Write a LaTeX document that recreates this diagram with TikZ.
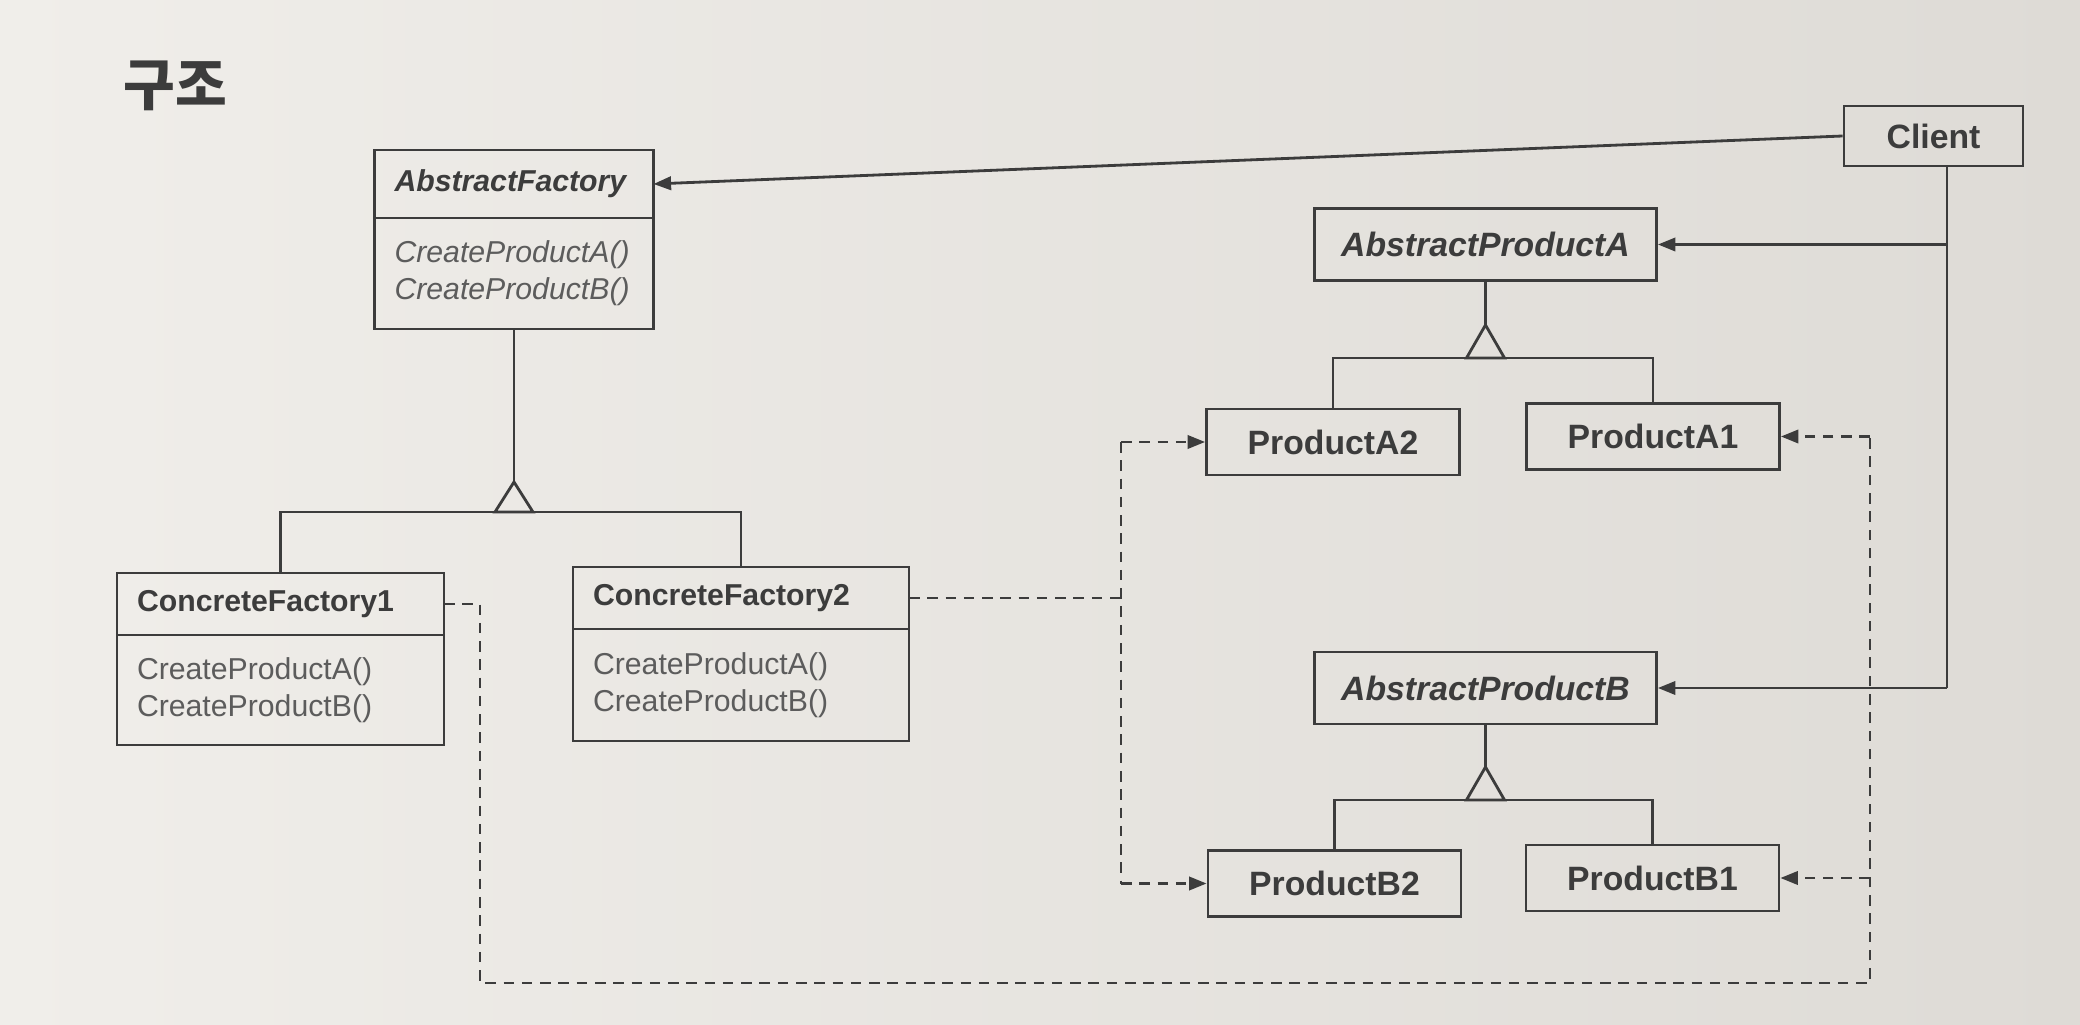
\documentclass[tikz,border=0pt]{standalone}
\usepackage{fontspec}
\setmainfont{Liberation Sans}
\newfontfamily\kofont{Noto Sans CJK KR}
\usepackage{tikz}
\usetikzlibrary{positioning,arrows.meta}

\definecolor{ink}{HTML}{3C3C3C}
\definecolor{opsgray}{HTML}{5C5C5C}
\definecolor{paperl}{HTML}{F0EEEA}
\definecolor{paperr}{HTML}{DEDBD6}

\newcommand\clsfont{\bfseries\fontsize{8.6}{10.5}\selectfont}
\newcommand\prodfont{\bfseries\fontsize{9.6}{11.5}\selectfont}
\newcommand\opsfont{\fontsize{8.6}{10.6}\selectfont}

\tikzset{
  wire/.style={draw=ink, line width=0.8pt},
  assoc/.style={wire, -{Triangle[length=5pt,width=3.8pt]}},
  dep/.style={wire, dash pattern=on 3pt off 2.2pt},
  deparr/.style={dep, -{Triangle[length=5pt,width=3.8pt]}},
  cls/.style={wire, text=ink, font=\clsfont, text width=#1, inner xsep=0.2cm,
    inner ysep=0pt, outer sep=0pt, align=left, minimum height=0.62cm},
  ops/.style={wire, text=opsgray, font=\opsfont, text width=#1, inner xsep=0.2cm,
    outer sep=0pt, align=left},
  box/.style={wire, text=ink, font=\prodfont, minimum width=2.53cm,
    minimum height=0.66cm, inner sep=0pt},
  abox/.style={box, font=\prodfont\itshape, minimum width=3.42cm, minimum height=0.72cm},
}

\begin{document}
\begin{tikzpicture}
    \shade[left color=paperl, right color=paperr] (0,0) rectangle (20.8,10.24);

    \node[text=ink, font=\kofont\bfseries\fontsize{16}{18}\selectfont] (title) at (1.75,9.38) {구조};

    % factories
    \node[cls=2.39cm, font=\clsfont\itshape, minimum height=0.68cm] (af) at (5.14,8.40) {AbstractFactory};
    \node[ops=2.39cm, font=\opsfont\itshape, minimum height=1.11cm, below=0pt of af] (af-ops)
        {CreateProductA()\\CreateProductB()};
    \node[cls=2.87cm] (cf1) at (2.805,4.20) {ConcreteFactory1};
    \node[ops=2.87cm, minimum height=1.10cm, below=0pt of cf1] (cf1-ops)
        {CreateProductA()\\CreateProductB()};
    \node[cls=2.96cm] (cf2) at (7.41,4.26) {ConcreteFactory2};
    \node[ops=2.96cm, minimum height=1.12cm, below=0pt of cf2] (cf2-ops)
        {CreateProductA()\\CreateProductB()};

    % client and products
    \node[box, minimum width=1.79cm, minimum height=0.60cm] (client) at (19.335,8.88) {Client};
    \node[abox] (apa) at (14.855,7.795) {AbstractProductA};
    \node[box] (pa2) at (13.33,5.82) {ProductA2};
    \node[box] (pa1) at (16.53,5.875) {ProductA1};
    \node[abox] (apb) at (14.855,3.36) {AbstractProductB};
    \node[box] (pb2) at (13.345,1.405) {ProductB2};
    \node[box] (pb1) at (16.525,1.46) {ProductB1};

    % inheritance
    \coordinate (af-apex) at (5.14,5.42);
    \draw[wire] (af-ops.south) -- (af-apex);
    \draw[wire] (af-apex) -- ++(-0.19,-0.30) -- ++(0.38,0) -- cycle;
    \draw[wire] (cf1.north) |- (af-apex |- 0,5.12) -| (cf2.north);

    \coordinate (apa-apex) at (14.855,6.99);
    \draw[wire] (apa.south) -- (apa-apex);
    \draw[wire] (apa-apex) -- ++(-0.19,-0.33) -- ++(0.38,0) -- cycle;
    \draw[wire] (pa2.north) |- (apa-apex |- 0,6.66) -| (pa1.north);

    \coordinate (apb-apex) at (14.855,2.57);
    \draw[wire] (apb.south) -- (apb-apex);
    \draw[wire] (apb-apex) -- ++(-0.19,-0.33) -- ++(0.38,0) -- cycle;
    \draw[wire] (pb2.north) |- (apb-apex |- 0,2.24) -| (pb1.north);

    % client associations
    \coordinate (cl-bot) at (19.47,3.36);
    \draw[assoc] (client.west) -- (af.east);
    \draw[wire] (client.south -| cl-bot) -- (cl-bot);
    \draw[assoc] (apa.east -| cl-bot) -- (apa.east);
    \draw[assoc] (cl-bot) -- (apb.east);

    % creates (ConcreteFactory2)
    \coordinate (dx2) at (11.21,0);
    \draw[dep] (cf2.east) -- (cf2.east -| dx2);
    \draw[dep] (pa2.west -| dx2) -- (pb2.west -| dx2);
    \draw[deparr] (pa2.west -| dx2) -- (pa2.west);
    \draw[deparr] (pb2.west -| dx2) -- (pb2.west);

    % creates (ConcreteFactory1)
    \coordinate (dl) at (4.80,0.41);
    \coordinate (dr) at (18.70,0.41);
    \draw[dep] (cf1.east) -| (dl) -- (dr) -- (pa1.east -| dr);
    \draw[deparr] (pa1.east -| dr) -- (pa1.east);
    \draw[deparr] (pb1.east -| dr) -- (pb1.east);
\end{tikzpicture}
\end{document}
